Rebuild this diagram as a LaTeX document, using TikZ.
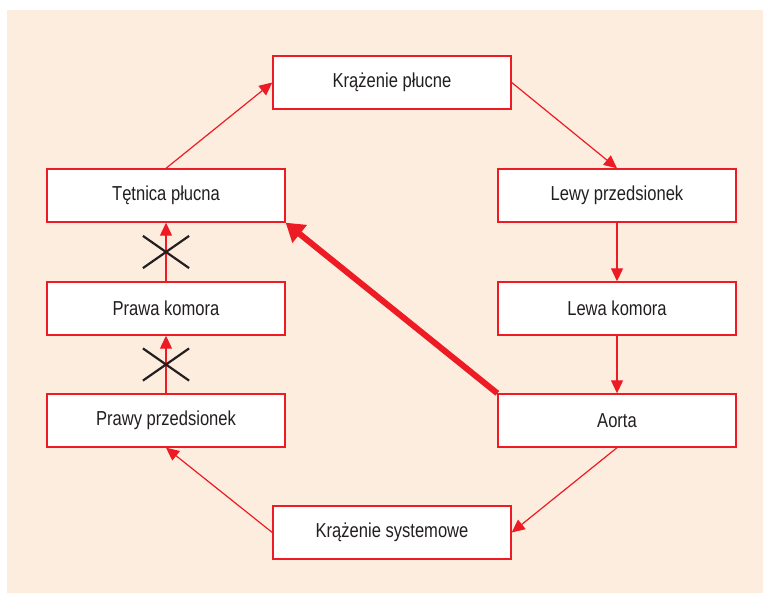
\documentclass[tikz,border=0pt]{standalone}
\usepackage{fontspec}
\setmainfont[FakeStretch=0.82]{Liberation Sans}
\usetikzlibrary{arrows.meta}
\usetikzlibrary{shapes.misc}

\definecolor{krew}{RGB}{237,28,36}
\definecolor{tlo}{RGB}{253,237,222}
\definecolor{napis}{RGB}{35,31,32}

\tikzset{
  blok/.style={draw=krew,fill=white,line width=0.7pt,minimum width=119pt,minimum height=26.5pt,
    inner sep=0pt,text=napis,font=\fontsize{10.1}{12}\selectfont},
  strzalka/.style={krew,line width=0.6pt,-{Triangle[length=6.5pt,width=6pt]}},
  gruba/.style={krew,line width=3pt,-{Triangle[length=9pt,width=11pt]}},
  krzyz/.style={draw=napis,cross out,line width=1.1pt,minimum width=22pt,minimum height=15pt,inner sep=0pt}
}

\begin{document}
\begin{tikzpicture}[x=0.5pt,y=-0.5pt]
  \useasboundingbox (0,0) rectangle (763,593);
  \fill[tlo] (7,10) rectangle (763,593);

  % bloki
  \node[blok] (plucne) at (392,82.5) {Krążenie płucne};
  \node[blok] (tetnica) at (166,195.5) {Tętnica płucna};
  \node[blok] (lprzed) at (617,195.5) {Lewy przedsionek};
  \node[blok] (pkomora) at (166,308.5) {Prawa komora};
  \node[blok] (lkomora) at (617,308.5) {Lewa komora};
  \node[blok] (pprzed) at (166,420.5) {Prawy przedsionek};
  \node[blok] (aorta) at (617,420.5) {Aorta};
  \node[blok] (system) at (392,532.5) {Krążenie systemowe};

  % obieg
  \draw[strzalka] (tetnica.north) -- (plucne.west);
  \draw[strzalka] (plucne.east) -- (lprzed.north);
  \draw[strzalka] (lprzed) -- (lkomora);
  \draw[strzalka] (lkomora) -- (aorta);
  \draw[strzalka] (aorta.south) -- (system.east);
  \draw[strzalka] (system.west) -- (pprzed.south);
  \draw[strzalka] (pprzed) -- node[krzyz] {} (pkomora);
  \draw[strzalka] (pkomora) -- node[krzyz] {} (tetnica);

  \draw[gruba] (aorta.north west) -- (tetnica.south east);
\end{tikzpicture}
\end{document}
